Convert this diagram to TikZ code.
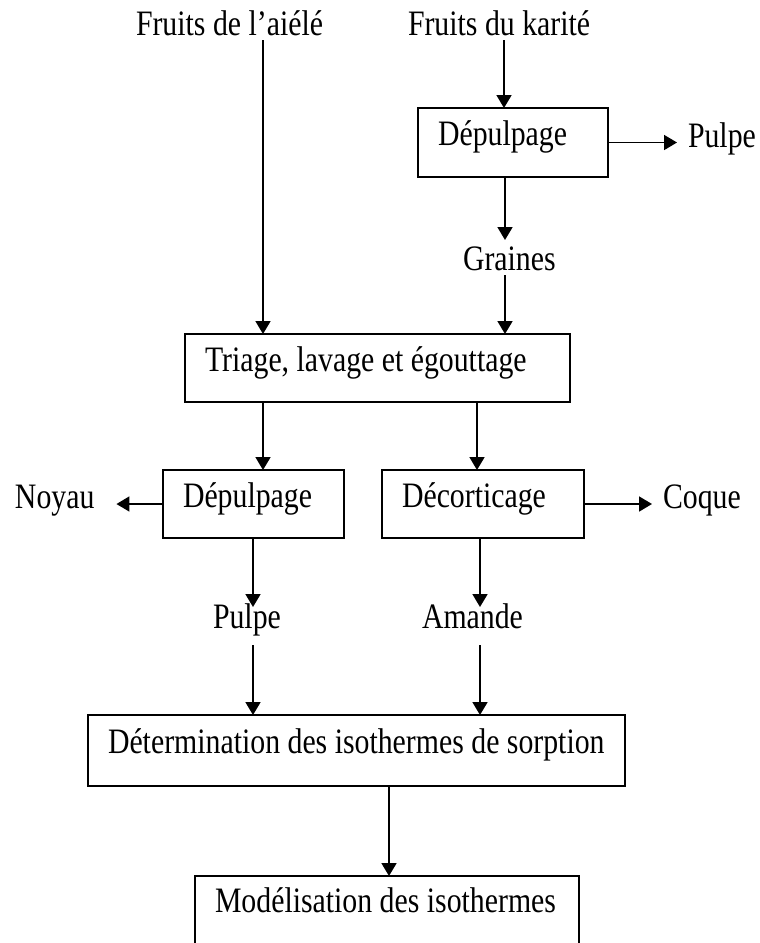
\documentclass[tikz,border=0pt]{standalone}
\usepackage{fontspec}
\setmainfont{Liberation Serif}
\usetikzlibrary{arrows.meta}
\newcommand{\st}[1]{\scalebox{1}[1.2]{#1}}
\newcommand{\bx}[2]{\makebox[#1][l]{\st{#2}}}
\begin{document}
\begin{tikzpicture}[x=0.5pt,y=-0.5pt,
  every node/.style={font=\fontsize{14.9}{18}\selectfont},
  lbl/.style={inner sep=0pt, outer sep=0pt, text height=0.7em, text depth=0.25em, anchor=base west},
  box/.style={draw, line width=0.9pt, anchor=north west, inner xsep=10pt, inner ysep=0pt, outer sep=0pt, text height=0.55em, text depth=0.25em},
  arr/.style={line width=0.9pt, -{Triangle[length=6.5pt,width=7.5pt]}}
]
\useasboundingbox (0,0) rectangle (760,943);
% x positions of vertical connectors
\coordinate (xA) at (263,0);
\coordinate (xK) at (504,0);
\coordinate (xG) at (505,0);
\coordinate (xD) at (477,0);
\coordinate (xP) at (253,0);
\coordinate (xM) at (480,0);
\coordinate (xZ) at (389,0);
% boxes
\node[box, minimum width=95pt, minimum height=34.5pt] (dep1) at (418,108) {\bx{75pt}{Dépulpage}};
\node[box, minimum width=192.5pt, minimum height=34pt] (tri) at (185,334) {\bx{172.5pt}{Triage, lavage et égouttage}};
\node[box, minimum width=90.5pt, minimum height=34pt] (dep2) at (163,470) {\bx{70.5pt}{Dépulpage}};
\node[box, minimum width=101pt, minimum height=34pt] (dec) at (382,470) {\bx{81pt}{Décorticage}};
\node[box, minimum width=268.5pt, minimum height=35.5pt] (det) at (88,715) {\bx{248.5pt}{Détermination des isothermes de sorption}};
\node[box, minimum width=192pt, minimum height=35pt, text height=0.4em] (mod) at (195,876) {\bx{172pt}{Modélisation des isothermes}};
% labels
\node[lbl] (aiele) at (136,35) {\st{Fruits de l’aiélé}};
\node[lbl] (karite) at (408,35) {\st{Fruits du karité}};
\node[lbl] (pulpe1) at (688,147) {\st{Pulpe}};
\node[lbl] (graines) at (463,270) {\st{Graines}};
\node[lbl] (noyau) at (15,508) {\st{Noyau}};
\node[lbl] (coque) at (663,508) {\st{Coque}};
\node[lbl] (pulpe2) at (213,628) {\st{Pulpe}};
\node[lbl] (amande) at (422,628) {\st{Amande}};
% connectors
\draw[arr] (aiele.south -| xA) -- (tri.north -| xA);
\draw[arr] (karite.south -| xK) -- (dep1.north -| xK);
\draw[arr, shorten >=5.5pt] (dep1.east) -- (pulpe1.west |- dep1.east);
\draw[arr, shorten >=8pt] (dep1.south -| xG) -- (graines.north -| xG);
\draw[arr] (graines.south -| xG) -- (tri.north -| xG);
\draw[arr] (tri.south -| xA) -- (dep2.north -| xA);
\draw[arr] (tri.south -| xD) -- (dec.north -| xD);
\draw[arr, shorten >=11pt] (dep2.west) -- (noyau.east |- dep2.west);
\draw[arr, shorten >=5.5pt] (dec.east) -- (coque.west |- dec.east);
\draw[arr, shorten >=3.5pt] (dep2.south -| xP) -- (pulpe2.north -| xP);
\draw[arr, shorten >=3.5pt] (dec.south -| xM) -- (amande.north -| xM);
\draw[arr, shorten <=6pt] (pulpe2.south -| xP) -- (det.north -| xP);
\draw[arr, shorten <=6pt] (amande.south -| xM) -- (det.north -| xM);
\draw[arr] (det.south -| xZ) -- (mod.north -| xZ);
\end{tikzpicture}
\end{document}
